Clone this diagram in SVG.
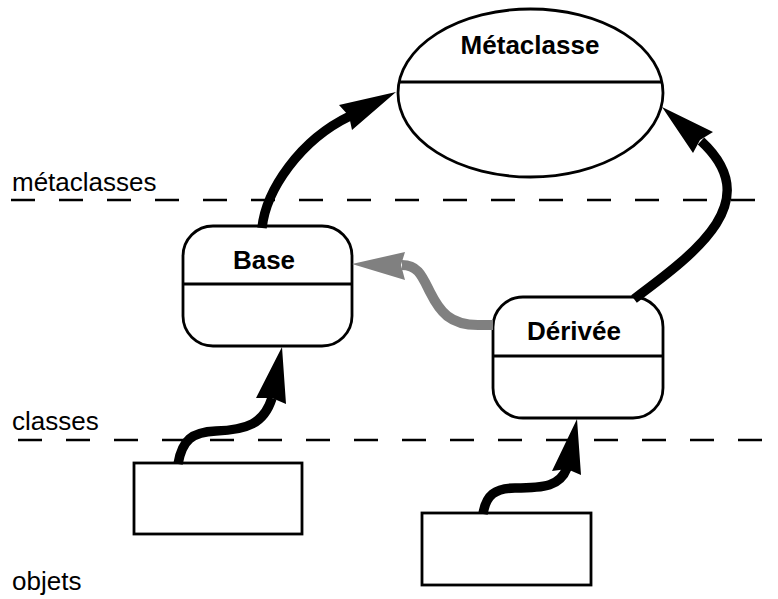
<svg xmlns="http://www.w3.org/2000/svg" width="778" height="599" viewBox="0 0 778 599">
  <style>
    .shape { fill: #ffffff; stroke: #000000; stroke-width: 2.8; }
    .rule { stroke: #000000; stroke-width: 2.8; }
    .level { stroke: #000000; stroke-width: 2.6; stroke-dasharray: 24 24; }
    .title { font-family: "Liberation Sans", Arial, sans-serif; font-weight: bold; font-size: 26px; text-anchor: middle; fill: #000000; }
    .label { font-family: "Liberation Sans", Arial, sans-serif; font-size: 26px; fill: #000000; }
    .link { fill: none; stroke: #000000; stroke-width: 9.5; }
    .head { fill: #000000; }
    .link.gray { stroke: #808080; stroke-width: 10; }
    .head.gray { fill: #808080; }
  </style>

  <!-- level separators -->
  <g id="levels">
    <line class="level" x1="11" y1="200" x2="778" y2="200"/>
    <line class="level" x1="18" y1="440" x2="778" y2="440"/>
    <text class="label" x="12" y="191">métaclasses</text>
    <text class="label" x="12" y="430">classes</text>
    <text class="label" x="12" y="590">objets</text>
  </g>

  <g id="metaclasse">
    <ellipse class="shape" cx="530.5" cy="93" rx="132.5" ry="84"/>
    <line class="rule" x1="399" y1="82" x2="662" y2="82"/>
    <text class="title" x="530" y="54">Métaclasse</text>
  </g>

  <g id="base">
    <rect class="shape" x="183" y="226" width="169" height="120" rx="30" ry="30"/>
    <line class="rule" x1="183" y1="284" x2="352" y2="284"/>
    <text class="title" x="264" y="269">Base</text>
  </g>

  <g id="derivee">
    <rect class="shape" x="493" y="297" width="170" height="121" rx="30" ry="30"/>
    <line class="rule" x1="493" y1="356" x2="663" y2="356"/>
    <text class="title" x="574" y="340">Dérivée</text>
  </g>

  <g id="objet-base">
    <rect class="shape" x="134" y="463" width="168" height="71"/>
  </g>

  <g id="objet-derivee">
    <rect class="shape" x="422" y="513" width="169" height="72"/>
  </g>

  <g id="connectors">
    <!-- Base to Métaclasse -->
    <path class="link" d="M262,228 C266,190 300,140 350,116"/>
    <polygon class="head" points="396,92 352,130 349,116 339,105"/>
    <!-- Dérivée to Métaclasse -->
    <path class="link" d="M634,299 C700,250 765,200 701,141"/>
    <polygon class="head" points="662,107 713,132 700,140 693,153"/>
    <!-- Dérivée to Base -->
    <path class="link gray" d="M493,325 L478,325 C450,325 440,312 430,292 C422,276 418,265 402,265"/>
    <polygon class="head gray" points="352,264 405,252 401,265 405,280"/>
    <!-- object to Base -->
    <path class="link" d="M178,464 C182,440 192,432 216,431 C246,430 264,424 272,398"/>
    <polygon class="head" points="282,347 286,404 272,398 256,398"/>
    <!-- object to Dérivée -->
    <path class="link" d="M483,514 C486,495 495,488 515,488 C545,488 560,486 567,468"/>
    <polygon class="head" points="577,419 581,475 567,469 552,471"/>
  </g>
</svg>
